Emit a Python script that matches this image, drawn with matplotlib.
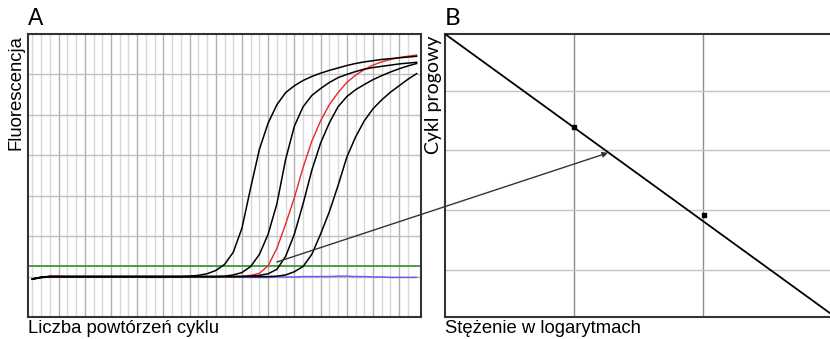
import matplotlib.pyplot as plt
from matplotlib.patches import ConnectionPatch

# ---- data: panel A (amplification curves) ----
cycles = list(range(1, 46))

curve_1 = [0.94, 0.98, 1.0, 1.0, 1.0, 1.0, 1.0, 1.0, 1.0, 1.0,
           1.0, 1.0, 1.0, 1.0, 1.0, 1.0, 1.0, 1.0, 1.01, 1.03,
           1.07, 1.15, 1.3, 1.6, 2.2, 3.2, 4.15, 4.8, 5.25, 5.55,
           5.72, 5.85, 5.95, 6.03, 6.1, 6.16, 6.22, 6.27, 6.31, 6.34,
           6.37, 6.39, 6.41, 6.43, 6.45]
curve_2 = [0.94, 0.98, 1.0, 1.0, 1.0, 1.0, 1.0, 1.0, 1.0, 1.0,
           1.0, 1.0, 1.0, 1.0, 1.0, 1.0, 1.0, 1.0, 1.0, 1.0,
           1.0, 1.0, 1.01, 1.04, 1.1, 1.25, 1.55, 2.05, 2.8, 3.9,
           4.72, 5.2, 5.48, 5.65, 5.8, 5.92, 6.0, 6.07, 6.13, 6.17,
           6.2, 6.23, 6.26, 6.28, 6.3]
curve_red = [0.94, 0.99, 1.01, 1.01, 1.0, 1.0, 1.0, 1.0, 1.0, 1.0,
             1.0, 1.0, 1.0, 1.0, 1.0, 1.0, 1.0, 1.0, 1.0, 1.0,
             1.0, 1.0, 1.0, 1.0, 1.01, 1.03, 1.08, 1.27, 1.7, 2.3,
             2.95, 3.7, 4.35, 4.85, 5.25, 5.55, 5.8, 5.98, 6.12, 6.23,
             6.31, 6.37, 6.42, 6.45, 6.48]
curve_4 = [0.94, 0.98, 1.0, 1.0, 1.0, 1.0, 1.0, 1.0, 1.0, 1.0,
           1.0, 1.0, 1.0, 1.0, 1.0, 1.0, 1.0, 1.0, 1.0, 1.0,
           1.0, 1.0, 1.0, 1.0, 1.0, 1.01, 1.03, 1.07, 1.18, 1.5,
           2.05, 2.8, 3.63, 4.3, 4.8, 5.2, 5.45, 5.62, 5.75, 5.87,
           5.97, 6.06, 6.14, 6.21, 6.27]
curve_5 = [0.94, 0.98, 1.0, 1.0, 1.0, 1.0, 1.0, 1.0, 1.0, 1.0,
           1.0, 1.0, 1.0, 1.0, 1.0, 1.0, 1.0, 1.0, 1.0, 1.0,
           1.0, 1.0, 1.0, 1.0, 1.0, 1.0, 1.0, 1.0, 1.01, 1.04,
           1.12, 1.25, 1.55, 2.05, 2.6, 3.25, 3.95, 4.45, 4.85, 5.15,
           5.37, 5.56, 5.72, 5.88, 6.02]
curve_blank = [0.93, 0.97, 0.99, 0.99, 0.99, 0.99, 0.99, 0.99, 0.99, 0.99,
               0.99, 0.99, 0.99, 0.98, 0.98, 0.98, 0.99, 0.99, 0.99, 0.99,
               0.99, 0.99, 0.99, 0.99, 0.99, 0.98, 0.98, 0.98, 0.99, 0.99,
               0.99, 1.0, 1.0, 1.0, 1.0, 1.01, 1.01, 1.0, 1.0, 0.99,
               0.99, 0.98, 0.98, 0.98, 0.98]
black_curves = [curve_1, curve_2, curve_4, curve_5]
threshold = 1.26

# ---- data: panel B (standard curve) ----
std_x = [1.0, 2.01]
std_y = [3.40, 1.92]
fit_x = [0.0, 3.0]
fit_y = [4.95, 0.25]

# arrow from the threshold crossing (A) to the fit line (B)
arrow_from = (29.0, 1.36)
arrow_to = (1.264, 2.96)

plt.rcParams['font.family'] = ['Liberation Sans', 'DejaVu Sans']

W, H = 830, 339
fig = plt.figure(figsize=(W / 100, H / 100), dpi=100)

def box(x0, y0, x1, y1):
    return [x0 / W, 1 - y1 / H, (x1 - x0) / W, (y1 - y0) / H]

# ---- panel A ----
ax1 = fig.add_axes(box(28, 34, 421, 317))
ax1.set_xlim(0.5, 45.5)
ax1.set_ylim(0, 7)
for c in range(1, 45):
    col = '#b0b0b0' if (c - 1) % 3 == 0 and c > 1 else '#d8d8d8'
    ax1.axvline(c, color=col, lw=1.0, zorder=0)
for g in range(1, 7):
    ax1.axhline(g, color='#c0c0c0', lw=1.0, zorder=0)

ax1.plot(cycles, curve_blank, color='#7b55f0', lw=1.1, zorder=2)
ax1.axhline(threshold, color='#3f953f', lw=1.3, zorder=2)
ax1.plot(cycles, curve_red, color='#e8262b', lw=1.0, zorder=3)
for cv in black_curves:
    ax1.plot(cycles, cv, color='black', lw=1.1, zorder=4)

ax1.set_xticks([])
ax1.set_yticks([])
for s in ax1.spines.values():
    s.set_color('#333333')
    s.set_linewidth(1.5)

# ---- panel B ----
ax2 = fig.add_axes(box(445, 34, 830, 317))
ax2.set_xlim(0, 385 / 129)
ax2.set_ylim(0.21, 4.95)
for g in [1, 2]:
    ax2.axvline(g, color='#8c8c8c', lw=1.0, zorder=0)
for g in [1, 2, 3, 4]:
    ax2.axhline(g, color='#c4c4c4', lw=1.0, zorder=0)
ax2.plot(fit_x, fit_y, color='black', lw=1.3, zorder=3, clip_on=True)
ax2.plot(std_x, std_y, 's', color='black', ms=3.5, zorder=4)
ax2.set_xticks([])
ax2.set_yticks([])
ax2.spines['right'].set_visible(False)
for k in ['left', 'top', 'bottom']:
    ax2.spines[k].set_color('#333333')
    ax2.spines[k].set_linewidth(1.5)

arrow = ConnectionPatch(xyA=arrow_from, coordsA=ax1.transData,
                        xyB=arrow_to, coordsB=ax2.transData,
                        arrowstyle='-|>', mutation_scale=8,
                        color='#333333', lw=1.0, zorder=10)
fig.add_artist(arrow)

# ---- texts ----
fs = 13.3
fig.text(28 / W, 1 - 25 / H, 'A', fontsize=16.5, va='baseline', ha='left')
fig.text(445 / W, 1 - 25 / H, 'B', fontsize=17.5, va='baseline', ha='left',
         family=['Lato', 'DejaVu Sans'])
fig.text(16 / W, 1 - 35 / H, 'Fluorescencja', fontsize=fs, rotation=90,
         va='top', ha='center')
fig.text(433 / W, 1 - 36 / H, 'Cykl progowy', fontsize=fs + 0.7, rotation=90,
         va='top', ha='center', family=['Lato', 'DejaVu Sans'])
fig.text(28 / W, 1 - 333 / H, 'Liczba powtórzeń cyklu', fontsize=fs,
         va='baseline', ha='left')
fig.text(445 / W, 1 - 333 / H, 'Stężenie w logarytmach', fontsize=fs,
         va='baseline', ha='left')

fig.savefig('out.png', dpi=100)
